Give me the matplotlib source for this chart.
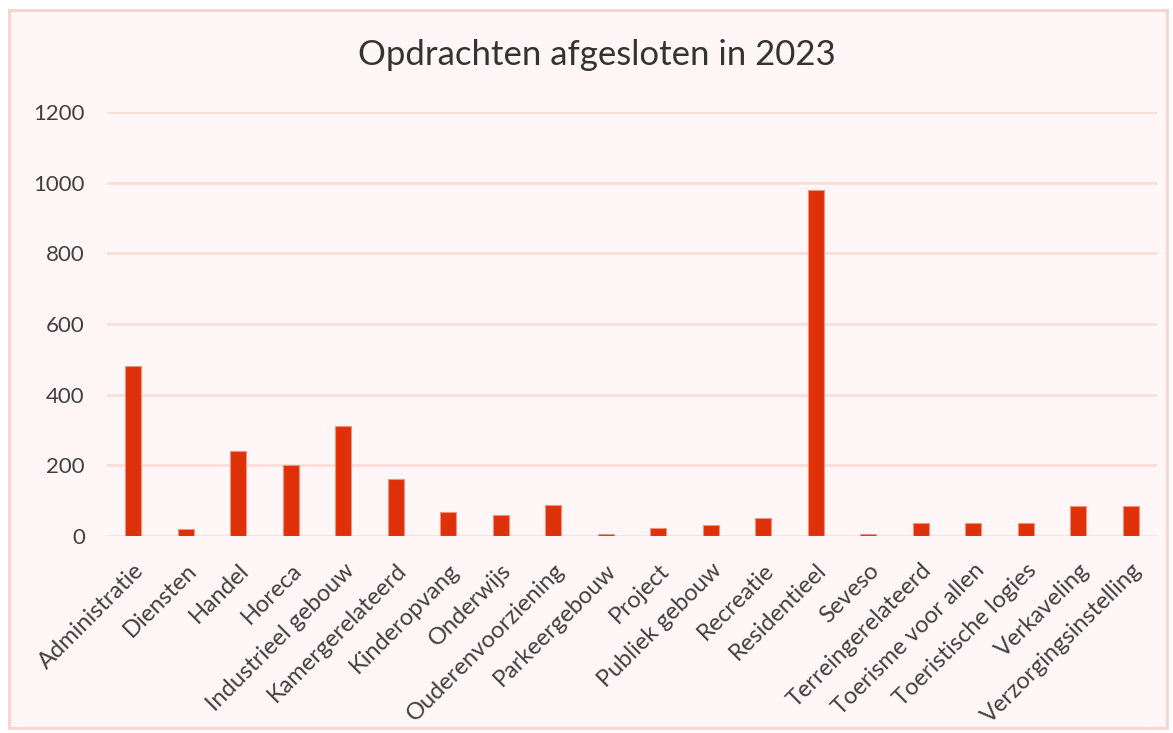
import matplotlib.pyplot as plt
from matplotlib.patches import Rectangle

categories = ["Administratie", "Diensten", "Handel", "Horeca", "Industrieel gebouw",
              "Kamergerelateerd", "Kinderopvang", "Onderwijs", "Ouderenvoorziening",
              "Parkeergebouw", "Project", "Publiek gebouw", "Recreatie", "Residentieel",
              "Seveso", "Terreingerelateerd", "Toerisme voor allen", "Toeristische logies",
              "Verkaveling", "Verzorgingsinstelling"]
values = [480, 20, 240, 200, 312, 161, 67, 60, 87, 7, 22, 30, 50, 980, 7, 38, 38, 38, 84, 84]
yticks = [0, 200, 400, 600, 800, 1000, 1200]

plt.rcParams['font.family'] = ['Lato', 'DejaVu Sans']

bg = "#FFF7F7"
grid = "#FCDCD6"
fig = plt.figure(figsize=(11.73, 7.33), dpi=100, facecolor="white")
fig.patches.append(Rectangle((9 / 1173, 5 / 733), 1158 / 1173, 718 / 733, transform=fig.transFigure,
                             facecolor=bg, edgecolor="#FAD3CC", linewidth=2, zorder=-5))

ax = fig.add_axes([107 / 1173, 1 - 536 / 733, (1157 - 107) / 1173, (536 - 112) / 733])
ax.set_zorder(2)
ax.set_facecolor("none")
x = range(len(categories))
ax.bar(x, values, width=0.31, color="#DE3009", edgecolor="#F2937C", linewidth=0.8, zorder=3)

ax.set_ylim(0, 1200)
ax.set_xlim(-0.5, len(categories) - 0.5)
ax.set_yticks(yticks)
ax.set_yticklabels([str(v) for v in yticks], fontsize=16, color="#404040")
ax.set_xticks(list(x))
ax.set_xticklabels(categories, rotation=45, ha="right", rotation_mode="anchor",
                   fontsize=17, color="#404040")
ax.tick_params(length=0, axis="y", pad=16)
ax.tick_params(length=0, axis="x", pad=17)
ax.grid(axis="y", color=grid, linewidth=1.8, zorder=0)
for s in ax.spines.values():
    s.set_visible(False)

fig.text(597 / 1173, 1 - 55 / 733, "Opdrachten afgesloten in 2023", ha="center", va="center",
         fontsize=25, color="#333333")

fig.savefig("out.png", dpi=100, facecolor="white")
